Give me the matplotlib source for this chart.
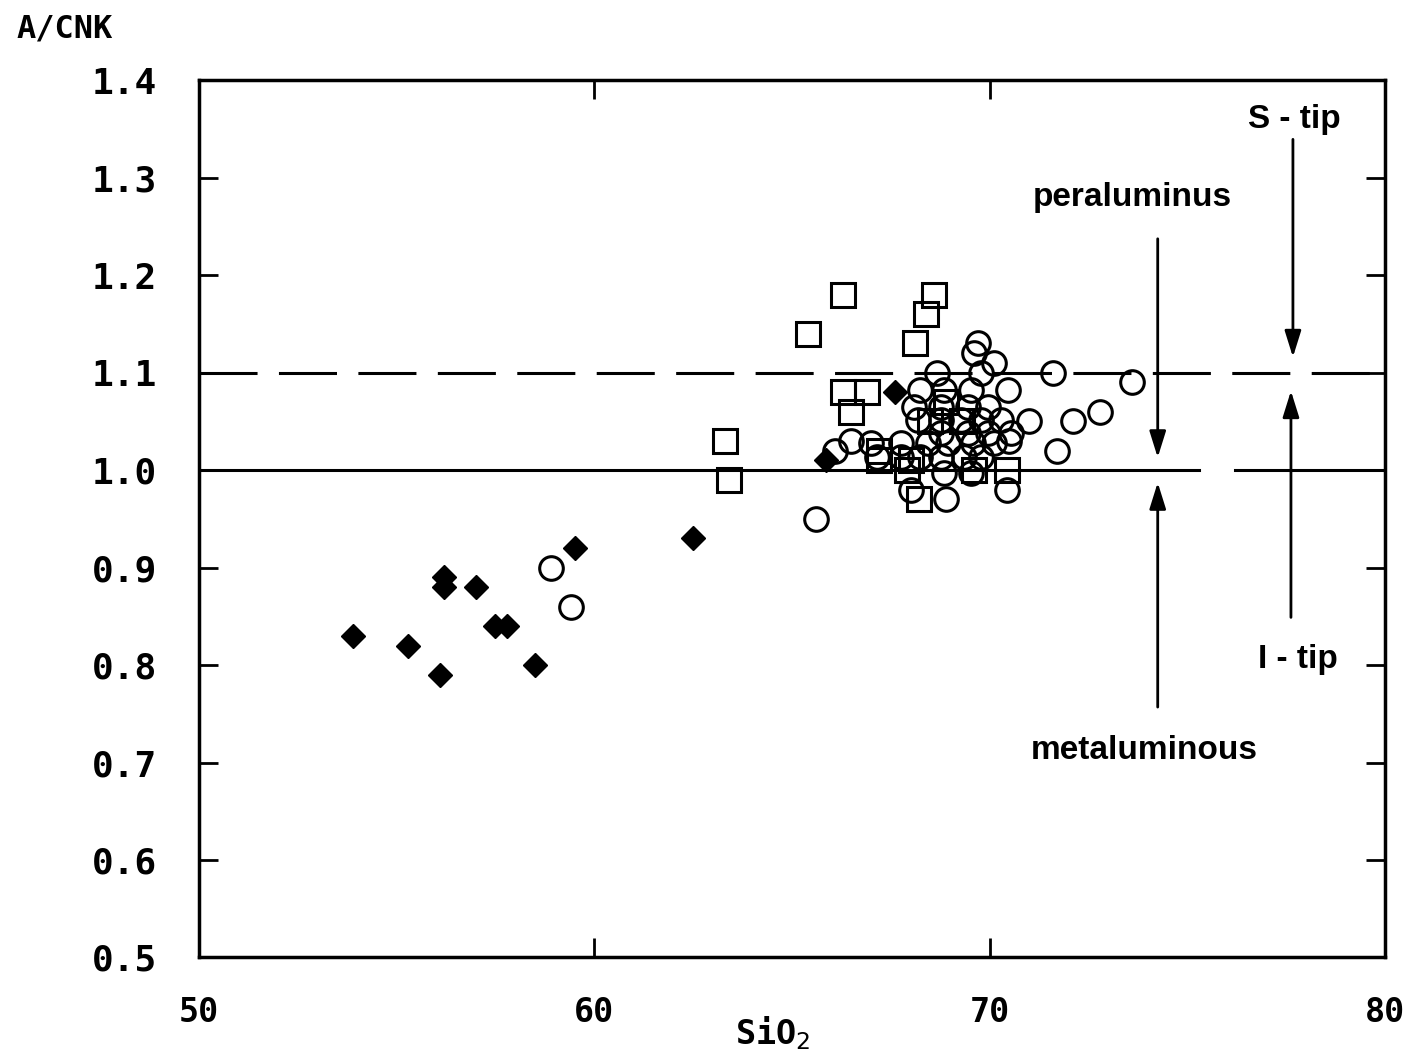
import matplotlib
matplotlib.use("Agg")
import matplotlib.pyplot as plt

# SiO2 vs A/CNK, three groups
dia_x = [53.9, 55.3, 56.1, 56.2, 56.2, 57.0, 57.5, 57.8, 58.5, 59.5, 62.5, 65.85, 67.6]
dia_y = [0.83, 0.82, 0.79, 0.89, 0.88, 0.88, 0.84, 0.84, 0.80, 0.92, 0.93, 1.01, 1.08]

sq_x = [66.3, 68.6, 68.4, 65.4, 68.1, 63.3, 63.4, 66.3, 66.9, 66.5, 70.45, 68.2,
        67.2, 67.2, 67.9, 68.5, 69.3, 68.9, 68.0, 69.6]
sq_y = [1.18, 1.18, 1.16, 1.14, 1.13, 1.03, 0.99, 1.08, 1.08, 1.06, 1.00, 0.97,
        1.01, 1.02, 1.00, 1.05, 1.05, 1.07, 1.01, 1.00]

ci_x = [68.68, 69.77, 68.25, 68.84, 69.52, 70.46, 68.08, 68.76, 69.44, 69.95,
        68.18, 68.76, 69.27, 69.77, 70.28, 68.76, 69.44, 69.95, 70.53,
        66.99, 67.75, 68.43, 68.94, 69.59, 70.10, 67.16, 67.75, 68.25, 68.76,
        69.34, 69.77, 68.84, 69.52,
        58.9, 59.4, 65.6, 66.1, 66.5, 68.0, 68.9, 70.45, 70.5, 71.0, 71.7,
        72.1, 72.8, 73.6, 71.6, 69.7, 69.6, 70.1]
ci_y = [1.10, 1.10, 1.082, 1.082, 1.082, 1.082, 1.065, 1.065, 1.065, 1.065,
        1.051, 1.051, 1.051, 1.051, 1.051, 1.038, 1.038, 1.038, 1.038,
        1.028, 1.028, 1.028, 1.028, 1.028, 1.028, 1.013, 1.013, 1.013, 1.013,
        1.013, 1.013, 0.997, 0.997,
        0.90, 0.86, 0.95, 1.02, 1.03, 0.98, 0.97, 0.98, 1.03, 1.05, 1.02,
        1.05, 1.06, 1.09, 1.10, 1.13, 1.12, 1.11]

xticks = [50, 60, 70, 80]
yticks = [0.5, 0.6, 0.7, 0.8, 0.9, 1.0, 1.1, 1.2, 1.3, 1.4]

mono = ["DejaVu Sans Mono"]
narrow = ["Liberation Sans Narrow", "Liberation Sans", "DejaVu Sans"]

fig = plt.figure(figsize=(14.05, 10.6), dpi=100)
ax = fig.add_axes([0.1416, 0.0967, 0.8442, 0.8278])
ax.set_xlim(50, 80)
ax.set_ylim(0.5, 1.4)

# boundary lines
ax.plot([50, 75.3], [1.0, 1.0], color="black", lw=2.2)
ax.plot([76.2, 80], [1.0, 1.0], color="black", lw=2.2)
ax.plot([50, 80], [1.1, 1.1], color="black", lw=2.2, dashes=(19, 7))

ax.plot(sq_x, sq_y, "s", ms=17, mfc="none", mec="black", mew=2.2, ls="none")
ax.plot(ci_x, ci_y, "o", ms=17, mfc="none", mec="black", mew=2.2, ls="none")
ax.plot(dia_x, dia_y, "D", ms=12, mfc="black", mec="black", ls="none")

arr = dict(arrowstyle="-|>,head_length=1.6,head_width=0.5", color="black", lw=2)
ax.annotate("", xy=(74.25, 1.01), xytext=(74.25, 1.24), arrowprops=arr)
ax.annotate("", xy=(74.25, 0.99), xytext=(74.25, 0.754), arrowprops=arr)
ax.annotate("", xy=(77.67, 1.113), xytext=(77.67, 1.342), arrowprops=arr)
ax.annotate("", xy=(77.62, 1.084), xytext=(77.62, 0.846), arrowprops=arr)

ax.text(73.6, 1.28, "peraluminus", family=narrow, weight="bold", fontsize=24,
        ha="center", va="center")
ax.text(73.9, 0.712, "metaluminous", family=narrow, weight="bold", fontsize=24,
        ha="center", va="center")
ax.text(77.7, 1.36, "S - tip", family=narrow, weight="bold", fontsize=24,
        ha="center", va="center")
ax.text(77.8, 0.806, "I - tip", family=narrow, weight="bold", fontsize=24,
        ha="center", va="center")

ax.set_xticks(xticks)
ax.set_yticks(yticks)
ax.set_xticklabels([str(v) for v in xticks], family=mono, weight="bold", fontsize=24)
ax.set_yticklabels([f"{v:.1f}" for v in yticks], family=mono, weight="bold", fontsize=26)
ax.tick_params(direction="in", length=14, width=2, top=True, right=True)
ax.tick_params(axis="y", pad=30)
ax.tick_params(axis="x", pad=28)
for s in ax.spines.values():
    s.set_linewidth(2.5)

fig.text(0.012, 0.973, "A/CNK", family=mono, weight="bold", fontsize=23,
         ha="left", va="center")
fig.text(0.55, 0.025, r"SiO$_2$", family=mono, weight="bold", fontsize=24,
         ha="center", va="center")

fig.savefig("out.png", dpi=100, facecolor="white")
